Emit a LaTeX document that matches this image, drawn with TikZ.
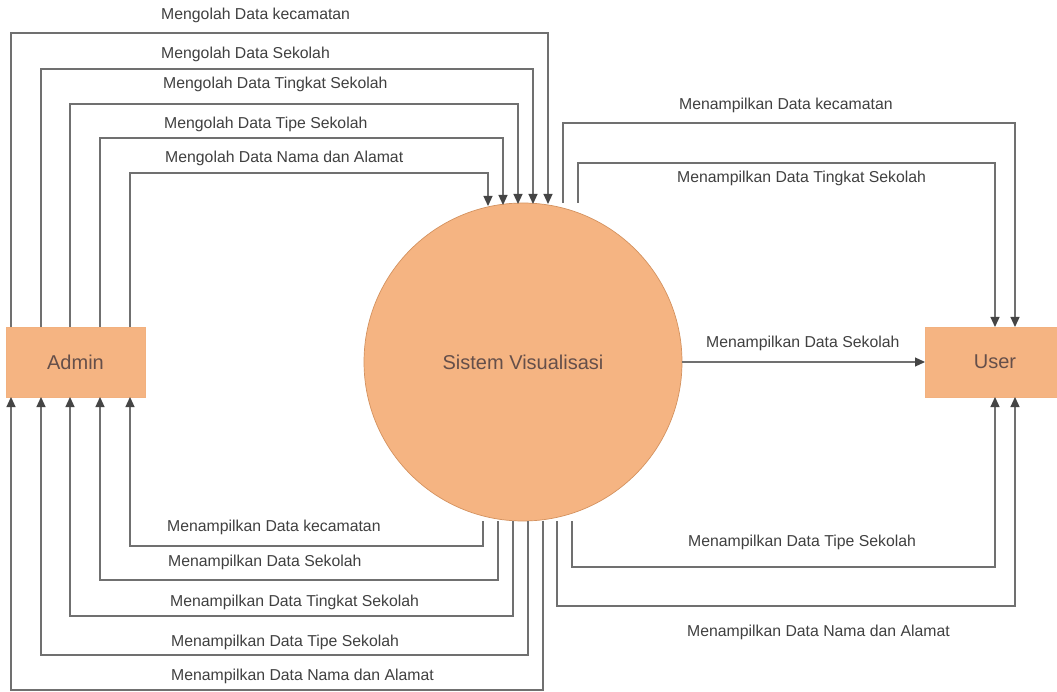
\documentclass[tikz,border=0pt]{standalone}
\usepackage{fontspec}
\setmainfont{Liberation Sans}
\usetikzlibrary{arrows.meta}

\definecolor{procfill}{HTML}{F5B482}
\definecolor{procedge}{HTML}{D4925F}
\definecolor{nodetext}{HTML}{654F4A}
\definecolor{flowline}{HTML}{707070}
\definecolor{flowtip}{HTML}{454545}
\definecolor{flowtext}{HTML}{404040}

\tikzset{
  entity/.style={rectangle, draw=procfill!90!procedge, fill=procfill, line width=0.6pt,
    minimum width=139pt, minimum height=70pt, inner sep=0pt, outer sep=0pt,
    text=nodetext, font=\fontsize{20}{24}\selectfont},
  process/.style={circle, draw=procedge, fill=procfill, line width=0.7pt,
    minimum size=318pt, inner sep=0pt, outer sep=0pt,
    text=nodetext, font=\fontsize{20}{24}\selectfont},
  flow/.style={draw=flowline, line width=1.2pt,
    -{Triangle[width=9pt,length=10pt,fill=flowtip,color=flowtip]}},
  flowlabel/.style={anchor=west, inner sep=0pt, text=flowtext,
    font=\fontsize{15.8}{19}\selectfont}
}

\begin{document}
\begin{tikzpicture}[x=1pt,y=-1pt]
  \useasboundingbox (0,0) rectangle (1057,692);
  \clip (0,0) rectangle (1057,692);
  \fill[white] (0,0) rectangle (1057,692);

  % external entities and the process
  \node[entity]  (admin) at (75.5,362) {Admin};
  \node[process] (sys)   at (523,362)  {Sistem Visualisasi};
  \node[entity, minimum width=140pt] (user) at (995,362) {User};

  % Admin -> Sistem Visualisasi
  \draw[flow] ([xshift=-64.5]admin.north) |- ([xshift=25,yshift=170]sys.north) -- ([xshift=25,yshift=-1]sys.north);
  \draw[flow] ([xshift=-34.5]admin.north) |- ([xshift=10,yshift=134]sys.north) -- ([xshift=10,yshift=-1]sys.north);
  \draw[flow] ([xshift=-5.5]admin.north)  |- ([xshift=-5,yshift=99]sys.north)  -- ([xshift=-5,yshift=-1]sys.north);
  \draw[flow] ([xshift=24.5]admin.north)  |- ([xshift=-20,yshift=65]sys.north) -- ([xshift=-20,yshift=-2]sys.north);
  \draw[flow] ([xshift=54.5]admin.north)  |- ([xshift=-35,yshift=30]sys.north) -- ([xshift=-35,yshift=-3]sys.north);

  \node[flowlabel] (t1) at (161,15)  {Mengolah Data kecamatan};
  \node[flowlabel] (t2) at (161,54)  {Mengolah Data Sekolah};
  \node[flowlabel] (t3) at (163,84)  {Mengolah Data Tingkat Sekolah};
  \node[flowlabel] (t4) at (164,124) {Mengolah Data Tipe Sekolah};
  \node[flowlabel] (t5) at (165,158) {Mengolah Data Nama dan Alamat};

  % Sistem Visualisasi -> Admin
  \draw[flow] ([xshift=-40]sys.south) |- ([xshift=54.5,yshift=-149]admin.south) -- ([xshift=54.5]admin.south);
  \draw[flow] ([xshift=-25]sys.south) |- ([xshift=24.5,yshift=-183]admin.south) -- ([xshift=24.5]admin.south);
  \draw[flow] ([xshift=-10]sys.south) |- ([xshift=-5.5,yshift=-219]admin.south) -- ([xshift=-5.5]admin.south);
  \draw[flow] ([xshift=5]sys.south)   |- ([xshift=-34.5,yshift=-258]admin.south) -- ([xshift=-34.5]admin.south);
  \draw[flow] ([xshift=20]sys.south)  |- ([xshift=-64.5,yshift=-293]admin.south) -- ([xshift=-64.5]admin.south);

  \node[flowlabel] (b1) at (167,527) {Menampilkan Data kecamatan};
  \node[flowlabel] (b2) at (168,562) {Menampilkan Data Sekolah};
  \node[flowlabel] (b3) at (170,602) {Menampilkan Data Tingkat Sekolah};
  \node[flowlabel] (b4) at (171,642) {Menampilkan Data Tipe Sekolah};
  \node[flowlabel] (b5) at (171,676) {Menampilkan Data Nama dan Alamat};

  % Sistem Visualisasi -> User
  \draw[flow] ([xshift=40]sys.north) |- ([xshift=20,yshift=204]user.north) -- ([xshift=20]user.north);
  \draw[flow] ([xshift=55]sys.north) |- ([yshift=164]user.north) -- (user.north);
  \draw[flow] (sys.east) -- (user.west);
  \draw[flow] ([xshift=49]sys.south) |- ([yshift=-170]user.south) -- (user.south);
  \draw[flow] ([xshift=34]sys.south) |- ([xshift=20,yshift=-209]user.south) -- ([xshift=20]user.south);

  \node[flowlabel] (r1) at (679,105) {Menampilkan Data kecamatan};
  \node[flowlabel] (r2) at (677,178) {Menampilkan Data Tingkat Sekolah};
  \node[flowlabel] (r3) at (706,343) {Menampilkan Data Sekolah};
  \node[flowlabel] (r4) at (688,542) {Menampilkan Data Tipe Sekolah};
  \node[flowlabel] (r5) at (687,632) {Menampilkan Data Nama dan Alamat};
\end{tikzpicture}
\end{document}
